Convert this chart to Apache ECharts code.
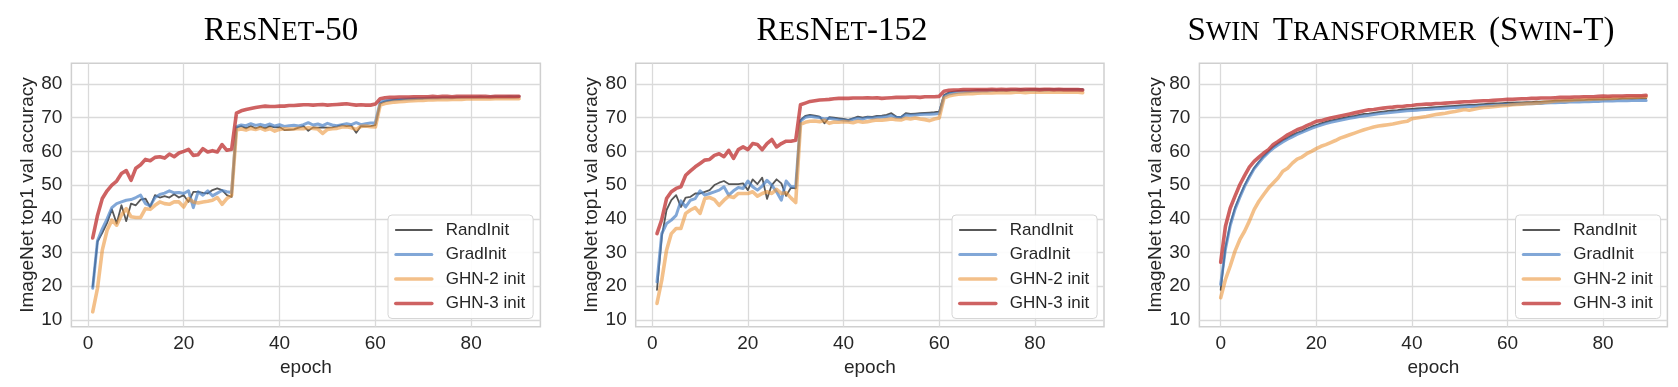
<!DOCTYPE html>
<html>
<head>
<meta charset="utf-8">
<script src="https://cdn.jsdelivr.net/npm/echarts@6/dist/echarts.min.js"></script>
<style>
html,body{margin:0;padding:0;background:#fff;}
#chart{width:1678px;height:387px;}
</style>
</head>
<body>
<div id="chart"></div>
<script>
// ---------------- data ----------------
const seriesNames = ['RandInit', 'GradInit', 'GHN-2 init', 'GHN-3 init'];
const xTicks = [0, 20, 40, 60, 80];
const yTicks = [10, 20, 30, 40, 50, 60, 70, 80];
const epochsResNet = Array.from({length: 90}, (_, i) => i + 1);
const epochsSwin = Array.from({length: 90}, (_, i) => i);

const r50Rand = [19.9,33.2,35.8,38.8,42.8,38.6,44.0,39.3,44.5,44.0,45.7,46.0,43.5,47.0,46.3,46.7,46.3,47.3,46.3,47.0,45.0,48.0,48.0,47.7,47.5,48.5,49.0,48.5,47.0,46.5,
67.1,67.5,66.8,67.5,66.8,67.3,66.8,67.5,67.1,67.2,66.3,66.4,66.5,67.0,67.5,66.1,67.1,67.0,67.1,67.0,67.1,67.4,67.8,67.5,67.6,65.5,67.5,67.4,67.5,67.8,
74.2,74.8,75.1,75.3,75.4,75.5,75.6,75.6,75.7,75.8,75.8,75.9,75.9,76.0,76.0,76.0,76.0,76.1,76.1,76.1,76.1,76.2,76.1,76.2,76.2,76.2,76.2,76.3,76.2,76.3];
const r50Grad = [19.4,33.5,37.0,40.0,43.3,44.5,45.0,45.5,45.7,46.3,47.0,44.5,43.8,46.3,47.2,47.6,48.3,47.7,47.8,47.5,48.3,43.3,48.0,47.0,48.3,46.8,47.6,48.4,48.0,47.8,
67.3,67.8,67.6,68.2,67.7,68.0,67.6,68.1,67.5,67.9,67.4,67.6,67.7,67.5,67.9,68.5,67.8,68.1,67.6,68.3,67.8,67.6,67.9,68.2,67.9,68.5,67.9,68.2,68.4,68.5,
74.6,75.0,75.2,75.3,75.4,75.5,75.5,75.6,75.7,75.7,75.8,75.8,75.8,75.9,75.9,75.9,76.0,76.0,76.0,76.0,76.0,76.1,76.0,76.1,76.1,76.1,76.1,76.2,76.1,76.2];
const r50Ghn2 = [12.4,19.4,30.7,36.6,39.6,38.1,41.1,43.0,40.6,40.4,40.4,43.0,42.8,44.0,45.0,44.5,44.3,45.0,45.0,43.5,46.0,45.0,44.7,45.0,45.2,45.5,46.3,44.3,46.0,47.0,
66.3,66.6,66.3,66.8,66.5,66.9,66.3,66.7,66.0,66.5,66.7,66.6,66.6,66.8,66.7,67.0,66.8,66.6,65.3,66.5,66.7,66.8,67.2,67.3,67.0,66.5,67.4,67.5,67.3,67.2,
73.7,74.2,74.4,74.6,74.7,74.8,74.9,75.0,75.1,75.1,75.2,75.2,75.3,75.3,75.3,75.4,75.4,75.4,75.5,75.5,75.5,75.5,75.6,75.5,75.6,75.6,75.6,75.6,75.6,75.6];
const r50Ghn3 = [34.3,41.0,46.0,48.3,50.0,51.2,53.4,54.3,51.4,55.0,56.0,57.6,57.2,58.2,58.4,58.0,59.2,58.4,59.5,60.0,60.6,58.8,59.0,60.8,59.8,60.2,59.8,62.0,60.3,60.6,
71.3,72.0,72.4,72.7,73.0,73.2,73.4,73.3,73.3,73.4,73.4,73.6,73.6,73.7,73.8,73.8,73.7,73.8,73.9,73.7,73.8,73.9,74.0,74.1,73.9,73.7,73.8,73.7,73.7,74.0,
75.6,75.9,76.0,76.0,76.1,76.1,76.1,76.2,76.2,76.2,76.2,76.3,76.2,76.3,76.3,76.2,76.3,76.3,76.3,76.3,76.3,76.3,76.3,76.2,76.3,76.3,76.3,76.3,76.3,76.3];

const r152Rand = [18.9,34.7,42.6,45.5,47.0,43.5,46.3,46.5,47.5,47.5,48.0,48.5,50.0,50.7,51.2,50.3,50.3,50.3,50.5,48.5,51.7,50.3,52.2,45.9,50.0,51.7,50.5,46.8,49.2,49.0,
69.3,70.5,70.8,70.6,70.3,68.3,70.1,70.0,69.8,69.6,69.3,69.8,70.3,70.0,70.3,70.2,70.5,70.6,70.8,71.3,70.3,70.2,71.3,71.1,71.2,71.3,71.4,71.5,71.6,71.8,
76.7,77.4,77.7,77.9,78.0,78.0,78.1,78.2,78.2,78.2,78.3,78.2,78.3,78.3,78.3,78.3,78.4,78.3,78.4,78.4,78.4,78.4,78.4,78.4,78.4,78.4,78.4,78.4,78.4,78.4];
const r152Grad = [21.3,35.6,38.6,39.6,41.0,45.3,43.5,45.5,46.0,48.3,47.0,47.5,48.0,48.5,49.5,47.0,48.3,49.3,49.0,51.2,49.5,48.5,49.7,51.4,50.0,48.0,45.5,51.2,49.5,49.5,
69.0,70.1,70.4,70.2,70.0,69.6,69.8,69.6,69.4,69.3,69.1,69.5,69.8,69.6,70.0,69.9,70.1,70.2,70.3,70.6,70.1,70.0,70.8,70.7,70.8,70.9,71.0,71.0,71.1,71.2,
76.3,77.0,77.3,77.5,77.6,77.7,77.8,77.8,77.9,77.9,78.0,78.0,78.0,78.0,78.1,78.1,78.1,78.1,78.1,78.1,78.2,78.1,78.2,78.2,78.2,78.2,78.2,78.2,78.2,78.2];
const r152Ghn2 = [14.9,21.8,30.7,35.6,37.1,37.1,41.6,42.6,43.3,41.6,46.0,46.3,45.7,44.0,45.5,46.7,46.3,47.5,47.5,47.5,48.0,46.7,47.5,48.0,47.5,48.7,47.5,47.7,46.2,44.8,
68.0,68.6,68.9,69.0,68.8,69.2,68.3,68.7,68.6,68.8,68.7,68.5,68.9,68.6,68.8,69.1,69.3,69.2,69.4,69.6,69.4,69.3,69.8,69.6,69.9,69.6,69.4,69.1,69.6,69.9,
75.8,76.4,76.7,76.9,77.0,77.1,77.1,77.2,77.3,77.3,77.3,77.4,77.4,77.4,77.4,77.5,77.5,77.4,77.5,77.5,77.5,77.5,77.5,77.5,77.5,77.5,77.5,77.5,77.5,77.4];
const r152Ghn3 = [35.6,39.8,46.0,48.0,49.0,49.5,52.9,54.2,55.4,56.4,57.4,57.6,58.8,59.3,58.4,60.3,57.9,60.5,61.3,60.5,62.3,62.0,60.5,62.3,63.5,61.3,62.3,63.0,63.0,63.3,
73.8,74.3,74.8,75.0,75.2,75.3,75.4,75.6,75.7,75.7,75.7,75.8,75.8,75.8,75.9,75.8,75.9,75.7,75.8,75.9,76.0,76.0,76.0,76.1,76.1,76.0,76.2,76.2,76.2,76.3,
77.8,78.1,78.2,78.2,78.3,78.3,78.3,78.3,78.3,78.3,78.4,78.3,78.4,78.3,78.4,78.4,78.3,78.4,78.4,78.4,78.3,78.4,78.4,78.3,78.4,78.3,78.3,78.3,78.3,78.2];

const swinRand = [18.9,31.5,38.5,43.3,46.8,50.0,52.7,55.1,56.9,58.6,60.0,61.3,62.3,63.3,64.0,64.8,65.5,66.0,66.7,67.3,67.8,68.3,68.7,69.1,69.4,69.7,70.0,70.3,70.5,70.8,
71.1,71.2,71.4,71.6,71.8,72.0,72.1,72.2,72.4,72.5,72.6,72.7,72.8,72.9,73.0,73.1,73.2,73.3,73.4,73.5,73.6,73.7,73.8,73.8,73.9,74.0,74.1,74.2,74.2,74.3,
74.4,74.4,74.5,74.5,74.6,74.6,74.7,74.7,74.8,74.9,75.0,75.0,75.1,75.1,75.2,75.2,75.2,75.3,75.3,75.4,75.5,75.4,75.5,75.5,75.6,75.6,75.6,75.7,75.7,75.7];
const swinGrad = [20.5,31.0,38.0,42.8,46.3,49.6,52.3,54.8,56.6,58.3,59.7,60.9,61.9,62.8,63.6,64.3,65.0,65.6,66.2,66.8,67.3,67.8,68.2,68.6,68.9,69.2,69.5,69.8,70.0,70.3,
70.5,70.7,70.9,71.1,71.3,71.4,71.6,71.7,71.9,72.0,72.1,72.2,72.3,72.4,72.5,72.6,72.7,72.8,72.9,73.0,73.1,73.2,73.3,73.3,73.4,73.5,73.6,73.6,73.7,73.8,
73.9,73.9,74.0,74.0,74.1,74.1,74.2,74.2,74.3,74.4,74.4,74.5,74.5,74.6,74.6,74.6,74.7,74.7,74.8,74.8,74.9,74.9,74.9,75.0,75.0,75.0,75.1,75.1,75.1,75.1];
const swinGhn2 = [16.6,22.0,26.0,30.4,33.8,36.3,39.3,42.7,45.2,47.2,49.1,50.6,52.1,54.1,55.0,56.5,57.7,58.3,59.3,60.0,60.8,61.5,62.0,62.6,63.2,63.9,64.4,64.9,65.4,65.9,
66.4,66.8,67.2,67.5,67.7,67.9,68.1,68.4,68.7,68.9,69.7,69.9,70.1,70.3,70.6,70.9,71.1,71.3,71.6,71.8,72.1,72.4,72.2,72.5,72.8,73.0,73.1,73.2,73.4,73.5,
73.6,73.8,73.9,74.0,74.1,74.2,74.3,74.4,74.6,74.7,74.9,75.0,75.0,75.1,75.2,75.3,75.4,75.4,75.5,75.5,75.6,75.7,75.7,75.8,75.9,75.9,76.0,76.0,76.1,76.1];
const swinGhn3 = [27.1,37.8,43.2,46.7,50.1,52.8,55.3,57.0,58.3,59.5,60.5,62.0,62.9,63.9,64.9,65.6,66.4,66.9,67.6,68.2,68.9,69.1,69.5,69.9,70.2,70.5,70.8,71.1,71.4,71.7,
72.0,72.3,72.4,72.6,72.8,73.0,73.1,73.3,73.3,73.5,73.6,73.8,73.9,74.0,74.0,74.2,74.2,74.3,74.4,74.5,74.6,74.7,74.7,74.8,74.9,75.0,75.0,75.1,75.2,75.3,
75.4,75.4,75.5,75.6,75.6,75.7,75.7,75.8,75.8,75.8,75.9,76.0,76.0,76.0,76.1,76.1,76.2,76.2,76.2,76.3,76.4,76.3,76.4,76.4,76.4,76.5,76.5,76.5,76.5,76.6];

// ---------------- layout / style ----------------
const panels = [
  {epochs: epochsResNet, data: [r50Rand, r50Grad, r50Ghn2, r50Ghn3], left: 71.4, width: 469, xmin: -3.45, xmax: 94.45,
   titleX: 281, title: '{b|R}{s|ES}{b|N}{s|ET}{b|-50}', legendLeft: 388},
  {epochs: epochsResNet, data: [r152Rand, r152Grad, r152Ghn2, r152Ghn3], left: 635.7, width: 468.3, xmin: -3.45, xmax: 94.45,
   titleX: 842, title: '{b|R}{s|ES}{b|N}{s|ET}{b|-152}', legendLeft: 952},
  {epochs: epochsSwin, data: [swinRand, swinGrad, swinGhn2, swinGhn3], left: 1199.4, width: 468, xmin: -4.45, xmax: 93.45,
   titleX: 1401, title: '{b|S}{s|WIN}{sp| }{b|T}{s|RANSFORMER}{sp| }{b|(S}{s|WIN}{b|-T)}', legendLeft: 1515.5}
];
const lineStyles = [
  {color: '#2e2e2e', width: 1.8, opacity: 0.8},
  {color: '#4c82c6', width: 3.0, opacity: 0.7},
  {color: '#eb963c', width: 3.6, opacity: 0.6},
  {color: '#c23b3b', width: 3.6, opacity: 0.8}
];
const gridTop = 63.3, gridHeight = 263.4;
const font = "'Liberation Sans', Arial, sans-serif";
const serif = "'Liberation Serif', 'Times New Roman', serif";
const txtColor = '#262626';

const grids = [], xAxes = [], yAxes = [], series = [], legends = [], graphics = [];
panels.forEach((p, gi) => {
  grids.push({left: p.left, top: gridTop, width: p.width, height: gridHeight, show: true,
    borderColor: '#cfcfcf', borderWidth: 1.5, backgroundColor: '#ffffff', containLabel: false});
  xAxes.push({gridIndex: gi, type: 'value', min: p.xmin, max: p.xmax,
    axisLine: {show: false}, axisTick: {show: false, customValues: xTicks},
    axisLabel: {customValues: xTicks, fontSize: 19, color: txtColor, fontFamily: font, margin: 8},
    splitLine: {show: true, lineStyle: {color: '#dadada', width: 1.3}},
    name: 'epoch', nameLocation: 'middle', nameGap: 29,
    nameTextStyle: {fontSize: 19, color: txtColor, fontFamily: font}});
  yAxes.push({gridIndex: gi, type: 'value', min: 8, max: 86.1,
    axisLine: {show: false}, axisTick: {show: false, customValues: yTicks},
    axisLabel: {customValues: yTicks, fontSize: 19, color: txtColor, fontFamily: font, margin: 9},
    splitLine: {show: true, lineStyle: {color: '#dadada', width: 1.3}},
    name: 'ImageNet top1 val accuracy', nameLocation: 'middle', nameGap: 34,
    nameTextStyle: {fontSize: 19, color: txtColor, fontFamily: font}});
  p.data.forEach((vals, si) => {
    const ls = lineStyles[si];
    series.push({
      type: 'line', name: seriesNames[si], xAxisIndex: gi, yAxisIndex: gi,
      data: p.epochs.map((e, k) => [e, vals[k]]),
      symbol: 'none', showSymbol: false, smooth: false,
      lineStyle: {color: ls.color, width: ls.width, opacity: ls.opacity, join: 'round', cap: 'round'},
      itemStyle: {color: ls.color, opacity: ls.opacity},
      emphasis: {disabled: true}, z: 2 + si
    });
  });
  legends.push({
    left: p.legendLeft, top: 215, orient: 'vertical',
    itemWidth: 36, itemHeight: 14, itemGap: 4.5,
    padding: [5, 8, 5, 6],
    backgroundColor: 'rgba(255,255,255,0.9)', borderColor: '#d6d6d6', borderWidth: 1, borderRadius: 4,
    textStyle: {fontSize: 17, color: txtColor, fontFamily: font, lineHeight: 20, padding: [0, 0, 0, 9]},
    lineStyle: {width: 'inherit'},
    itemStyle: {opacity: 0, borderWidth: 0},
    selectedMode: false,
    data: seriesNames
  });
  graphics.push({
    type: 'text', x: p.titleX, y: 47.5, silent: true,
    style: {
      text: p.title, align: 'center', verticalAlign: 'bottom', fill: '#000',
      rich: {
        b: {fontSize: 33, lineHeight: 33, fontFamily: serif, color: '#000', verticalAlign: 'bottom'},
        s: {fontSize: 27, lineHeight: 27, fontFamily: serif, color: '#000', verticalAlign: 'bottom', padding: [0, 0, 1, 0]},
        sp: {fontSize: 27, lineHeight: 27, fontFamily: serif, width: 13}
      }
    }
  });
});

const chart = echarts.init(document.getElementById('chart'), null, {renderer: 'canvas'});
chart.setOption({
  animation: false,
  backgroundColor: '#ffffff',
  grid: grids, xAxis: xAxes, yAxis: yAxes, series: series, legend: legends,
  graphic: graphics
});
</script>
</body>
</html>
